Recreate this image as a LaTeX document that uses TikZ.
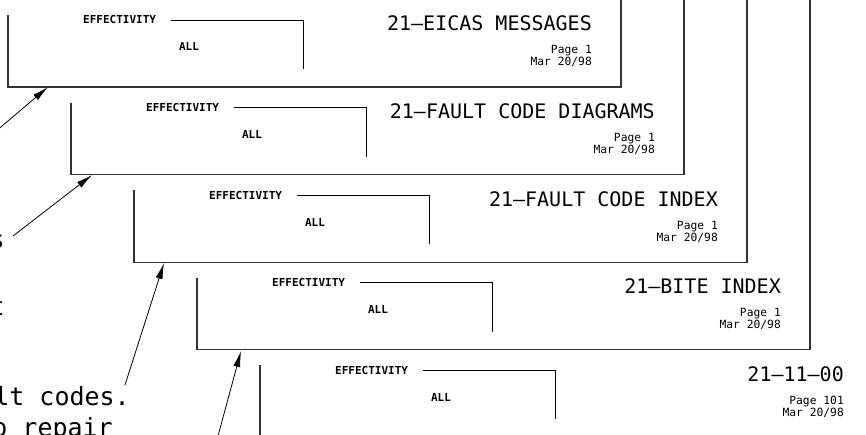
\documentclass[tikz,border=0pt]{standalone}
\usepackage{fontspec}
\setmonofont{DejaVu Sans Mono}
\usetikzlibrary{arrows.meta}

\begin{document}
\begin{tikzpicture}[
		x=1pt, y=-1pt,
		pageedge/.style={draw=black!80, line width=1.2pt},
		effline/.style={draw, line width=0.9pt},
		efftext/.style={inner sep=0pt, font=\ttfamily\bfseries\fontsize{11}{13}\selectfont},
		title/.style={inner sep=0pt, anchor=base east, font=\ttfamily\fontsize{20}{24}\selectfont},
		pageno/.style={inner sep=0pt, anchor=base east, font=\ttfamily\fontsize{11.3}{13}\selectfont},
		note/.style={inner sep=0pt, anchor=base east, font=\ttfamily\fontsize{25}{30}\selectfont},
		arrow/.style={-{Latex[length=16pt, width=7pt]}, line width=0.8pt}
		]
		\useasboundingbox (0,0) rectangle (866,435);

		% stacked pages, front to back
		\foreach \k/\ttl/\pg in {0/21–EICAS MESSAGES/Page 1, 1/21–FAULT CODE DIAGRAMS/Page 1,
				2/21–FAULT CODE INDEX/Page 1, 3/21–BITE INDEX/Page 1, 4/21–11–00/Page 101}{
			\begin{scope}[shift={(63*\k, 87.6*\k)}]
				\draw[pageedge] (8,15) -- (8,87) -- (621,87) -- (621,-10-87.6*\k);
				\node[efftext, anchor=base west] (eff\k) at (83,24) {EFFECTIVITY};
				\draw[effline] (171,20) -- (303,20) -- (303,69);
				\node[efftext, anchor=base] (all\k) at (189,51) {ALL};
				\node[title] (ttl\k) at (592,31) {\ttl};
				\node[pageno] (pg\k) at (592,54) {\pg};
				\node[pageno] (date\k) at (592,66) {Mar 20/98};
			\end{scope}
		}

		% notes on the left
		\node[note] (noteS) at (5,249) {s};
		\node[note] (noteT) at (5,315) {t};
		\node[note] (noteCodes) at (130,405) {lt codes.};
		\node[note] (noteRepair) at (113,436) {o repair};

		\coordinate (tipA) at (48,87);
		\coordinate (tipB) at (92,175);
		\coordinate (tipC) at (164,263);
		\coordinate (tipD) at (241,351);
		\coordinate (tailA) at (-5,132);
		\coordinate (tailB) at (13,236);
		\coordinate (tailC) at (125,385);
		\coordinate (tailD) at (215,447);

		\draw[arrow] (tailA) -- (tipA);
		\draw[arrow] (tailB) -- (tipB);
		\draw[arrow] (tailC) -- (tipC);
		\draw[arrow] (tailD) -- (tipD);
	\end{tikzpicture}
\end{document}
